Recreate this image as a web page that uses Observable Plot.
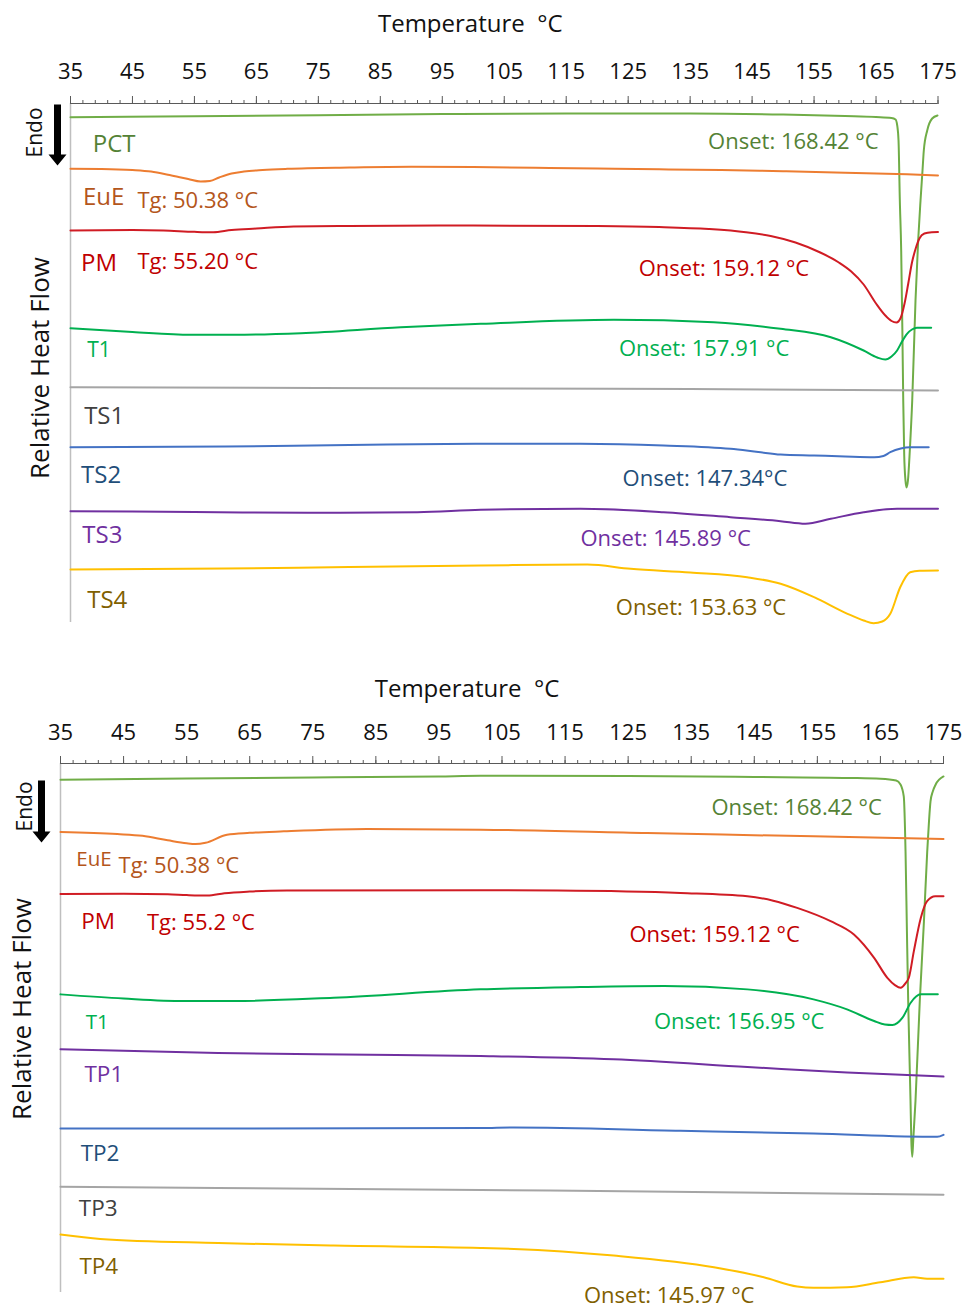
<!DOCTYPE html>
<html><head><meta charset="utf-8">
<script src="https://cdn.jsdelivr.net/npm/d3@7"></script>
<script src="https://cdn.jsdelivr.net/npm/@observablehq/plot@0.6"></script>
<style>html,body{margin:0;padding:0;background:#fff;width:964px}svg{display:block}</style>
</head><body><div id="c"></div><script>
// ---------- data: [temperature °C, relative heat flow (arb. units, endo down)] ----------
const ticksMajor = [35,45,55,65,75,85,95,105,115,125,135,145,155,165,175];

// Panel 1
const p1_PCT = [[35,-13.7],[55,-12.8],[75,-11.8],[95,-10.5],[115,-10],[135,-10],[150,-11],[160,-12.5],[165,-13.5],[167.5,-14.5],[168.15,-16],[168.42,-22],[168.63,-37],[168.84,-97],[169.06,-147],[169.25,-227],[169.39,-297],[169.55,-352],[169.75,-377],[169.92,-384],[170.15,-377],[170.45,-347],[170.84,-297],[171.37,-197],[171.8,-137],[172.18,-97],[172.5,-67],[172.71,-47],[173.26,-27],[174.06,-15],[174.92,-12]];
const p1_EuE = [[35,-65.3],[40,-65.5],[45,-66.5],[48,-68],[51,-71.5],[54,-75.5],[56,-78],[57.5,-77.5],[59,-74],[61,-70],[63,-68],[66,-66.5],[70,-65.3],[80,-64],[90,-63.3],[100,-63.5],[110,-64.2],[120,-65],[130,-65.8],[140,-66.5],[150,-67.8],[160,-69.2],[170,-70.8],[175,-72]];
const p1_PM = [[35,-127],[45,-126.5],[50,-127],[55,-128.3],[58,-128.7],[61,-126.5],[65,-125],[71,-123],[80,-122.5],[100,-122],[120,-122.5],[130,-123.5],[138,-125.5],[144,-128.7],[148,-132.5],[152,-139],[156,-149],[159,-159],[161,-168],[163,-181],[165,-200],[166.5,-212],[167.5,-217.5],[168.3,-219],[169,-214],[169.6,-200],[170.2,-180],[170.8,-159],[171.4,-145],[172,-135],[172.8,-130],[174,-128.7],[175,-128.5]];
const p1_T1 = [[35,-224.7],[45,-228.5],[54.4,-231.3],[61.4,-231.3],[72.2,-229.7],[88.3,-223.7],[101.2,-220.3],[122.7,-216.3],[138.8,-218.7],[149.6,-225.3],[157.7,-233.7],[163,-247],[165.2,-254],[166.5,-256],[167.5,-253],[168.4,-247],[169.2,-238],[170,-230.3],[170.8,-226],[171.6,-224.3],[173.9,-224.3]];
const p1_TS1 = [[35,-283.7],[75,-284.5],[105,-285],[135,-285.5],[175,-287]];
const p1_TS2 = [[35,-343.7],[60,-343],[80,-341.5],[101.2,-340.3],[117.3,-340.3],[130.7,-342],[141.5,-345.3],[146,-348.5],[149.6,-351],[155,-352],[160,-353],[164.7,-353.7],[166.2,-352.5],[167.3,-348.7],[169,-345],[170.5,-343.7],[173.5,-343.7]];
const p1_TS3 = [[35,-407.7],[55,-408.5],[74.8,-409.3],[91,-408.7],[101.2,-406.3],[117.3,-405.3],[130.7,-408.7],[141.5,-413.7],[149.6,-417.7],[153.6,-420.3],[157.7,-415.3],[163,-408.7],[168.4,-405.3],[175,-405.3]];
const p1_TS4 = [[35,-466],[60,-465],[80,-463.5],[101.2,-462],[118.4,-461],[125.4,-465.3],[135,-469],[144.2,-473.7],[149.6,-480.3],[155,-493.7],[160.4,-510.3],[163,-517],[164.6,-519.7],[166,-518],[167.3,-510.3],[168.9,-483.7],[170.5,-468.7],[172,-467.2],[175,-467]];
// labels: [series, text, temperature, heat flow, kind]
const p1_labels = [
  ["PCT","PCT",38.6,-41,"name"],
  ["PCT","Onset: 168.42 °C",137.9,-38,"note"],
  ["EuE","EuE",37.0,-94,"name"],
  ["EuE","Tg: 50.38 °C",45.8,-97,"note"],
  ["PM","PM",36.7,-160,"name"],
  ["PM","Tg: 55.20 °C",45.8,-158,"note"],
  ["PM","Onset: 159.12 °C",126.7,-165,"note"],
  ["T1","T1",37.7,-247,"small"],
  ["T1","Onset: 157.91 °C",123.5,-245,"note"],
  ["TS1","TS1",37.2,-313,"name"],
  ["TS2","TS2",36.7,-372,"name"],
  ["TS2","Onset: 147.34°C",124.1,-375,"note"],
  ["TS3","TS3",36.9,-432,"name"],
  ["TS3","Onset: 145.89 °C",117.3,-435,"note"],
  ["TS4","TS4",37.7,-497,"name"],
  ["TS4","Onset: 153.63 °C",123.0,-504,"note"]
];

// Panel 2
const p2_PCT = [[35,-16.3],[55,-15],[75,-14],[95,-13],[101.6,-12.3],[125,-12.5],[145,-13.5],[160,-14.5],[165,-15.3],[167.5,-17],[168.18,-21],[168.7,-33],[168.98,-88],[169.2,-168],[169.4,-238],[169.77,-338],[169.9,-378],[170.04,-394],[170.2,-378],[170.56,-338],[171.24,-238],[171.9,-158],[172.42,-88],[172.7,-58],[172.94,-38],[173.3,-28],[173.74,-21.3],[175,-13]];
const p2_EuE = [[35,-68.7],[44,-70.7],[48,-72.5],[52,-77],[55,-80],[56.4,-80.7],[58,-79.5],[61.4,-71.3],[65,-69.5],[70.4,-68],[83.6,-65.7],[101.6,-66.3],[128,-69.7],[154.4,-73],[175,-75.7]];
const p2_PM = [[35,-130.7],[45,-130.5],[52,-131],[55,-131.8],[58.3,-132.3],[61,-130],[65,-128.3],[70.9,-127.3],[101.6,-127],[113.8,-127.3],[133.3,-129.7],[143.9,-133],[148,-137.5],[151.8,-144.7],[157.1,-158],[160.8,-171.3],[164,-194.7],[166.1,-214.7],[167.3,-222],[168.2,-224.7],[169,-220],[169.5,-214.7],[170.3,-188],[171.4,-154.7],[172.4,-138],[173.7,-133],[175,-133]];
const p2_T1 = [[35,-231.3],[45,-235.5],[54.6,-238],[62.5,-238],[78.3,-234.7],[101.6,-226.3],[117.4,-224],[130.7,-223],[143.9,-226.3],[154.4,-236.3],[159.7,-246.3],[164,-258],[165.7,-261.5],[166.9,-262],[168.5,-254.7],[169.8,-239.7],[171.4,-231.3],[174.1,-231.3]];
const p2_TP1 = [[35,-286.3],[60,-290],[80,-291.5],[101.6,-293],[122.7,-296.3],[143.9,-304],[159.7,-309.7],[175,-313.7]];
const p2_TP2 = [[35,-365.7],[101.6,-365.3],[106.9,-364.7],[133.3,-368],[154.4,-370.7],[174,-374],[175,-372]];
const p2_TP3 = [[35,-424],[101.6,-427.3],[128,-428.7],[175,-432]];
const p2_TP4 = [[35,-472],[41.3,-476.3],[60,-480.5],[78.3,-483],[101.6,-485.3],[106.9,-486.3],[122.7,-493],[138.6,-504.7],[146.5,-514.7],[151.8,-524],[154.4,-525.3],[159.7,-524.7],[165,-519.7],[170.3,-514.7],[172.4,-516.3],[175,-516.3]];
const p2_labels = [
  ["PCT","Onset: 168.42 °C",138.2,-44.7,"note"],
  ["EuE","EuE",37.5,-96,"small"],
  ["EuE","Tg: 50.38 °C",44.2,-103,"note"],
  ["PM","PM",38.3,-158.7,"name"],
  ["PM","Tg: 55.2 °C",48.7,-159.7,"note"],
  ["PM","Onset: 159.12 °C",125.2,-171.3,"note"],
  ["T1","T1",39.0,-259.7,"small"],
  ["T1","Onset: 156.95 °C",129.1,-258.7,"note"],
  ["TP1","TP1",38.8,-312,"name"],
  ["TP2","TP2",38.2,-391.3,"name"],
  ["TP3","TP3",37.9,-445.7,"name"],
  ["TP4","TP4",38.0,-504,"name"],
  ["TP4","Onset: 145.97 °C",118,-533,"note"]
];

// ---------- styles ----------
const FONT = "'Open Sans', sans-serif";
const lineColor = {PCT:"#70AD47",EuE:"#ED7D31",PM:"#D01C24",T1:"#00B050",TS1:"#A5A5A5",TS2:"#4472C4",TS3:"#7030A0",TS4:"#FFC000",TP1:"#7030A0",TP2:"#4472C4",TP3:"#A5A5A5",TP4:"#FFC000"};
const textColor = {PCT:"#548235",EuE:"#B4561B",PM:"#C00000",T1:"#00B050",TS1:"#404040",TS2:"#1F4E79",TS3:"#7030A0",TS4:"#7F6000",TP1:"#7030A0",TP2:"#1F4E79",TP3:"#404040",TP4:"#7F6000"};

const arrowShape = {
  draw(ctx, l) {
    const w = 3.5, hw = 9, hl = 11;
    ctx.moveTo(-w, 0); ctx.lineTo(-w, -l + hl); ctx.lineTo(-hw, -l + hl);
    ctx.lineTo(0, -l); ctx.lineTo(hw, -l + hl); ctx.lineTo(w, -l + hl); ctx.lineTo(w, 0); ctx.closePath();
  }
};

function panel(cfg) {
  const rows = [];
  for (const [name, pts] of cfg.series) for (const [t, v] of pts) rows.push({name, t, v});
  const labs = cfg.labels.map(([s, text, t, v, kind]) => ({s, text, t, v, kind}));
  const sizeOf = k => k === "note" ? cfg.noteSize : k === "name" ? cfg.nameSize : cfg.smallSize;
  return Plot.plot({
    width: 964, height: cfg.height,
    marginTop: cfg.mt, marginBottom: cfg.mb, marginLeft: cfg.ml, marginRight: cfg.mr,
    x: {domain: [35, 175], axis: null},
    y: {domain: cfg.yDomain, axis: null},
    style: {fontFamily: FONT, background: "#fff", overflow: "visible"},
    marks: [
      Plot.ruleX([35], {stroke: "#BFBFBF", strokeWidth: 1.5}),
      Plot.ruleY([0], {stroke: "#595959", strokeWidth: 1.2}),
      Plot.axisX({anchor: "top", ticks: d3.range(35, 176, 2), tickSize: 4, tickFormat: () => "", stroke: "#595959", label: null}),
      Plot.axisX({anchor: "top", ticks: ticksMajor, tickSize: 8, tickPadding: cfg.tickPad, fontSize: 22, stroke: "#595959", fill: "#111", label: null}),
      Plot.line(rows, {x: "t", y: "v", z: "name", stroke: d => lineColor[d.name], strokeWidth: 2, curve: "monotone-x"}),
      Plot.text(labs, {x: "t", y: "v", text: "text", fill: d => textColor[d.s], fontSize: d => sizeOf(d.kind), textAnchor: "start", lineAnchor: "middle"}),
      Plot.text(["Temperature  °C"], {frameAnchor: "top", dx: cfg.titleDx, dy: cfg.titleDy, fontSize: 24, fill: "#111", lineAnchor: "middle"}),
      Plot.text(["Relative Heat Flow"], {frameAnchor: "left", dx: cfg.ylabDx, dy: cfg.ylabDy, rotate: -90, fontSize: 26, fill: "#111", textAnchor: "middle", lineAnchor: "middle"}),
      Plot.text(["Endo"], {frameAnchor: "top-left", dx: cfg.endoDx, dy: cfg.endoDy, rotate: -90, fontSize: 21, fill: "#111", textAnchor: "middle", lineAnchor: "middle"}),
      Plot.vector([0], {frameAnchor: "top-left", dx: cfg.arrowDx, dy: cfg.arrowDy, length: cfg.arrowLen, rotate: 180, anchor: "start", shape: arrowShape, fill: "#000", stroke: "none"})
    ]
  });
}

const c = document.getElementById("c");
c.append(panel({
  series: [["PCT",p1_PCT],["EuE",p1_EuE],["PM",p1_PM],["T1",p1_T1],["TS1",p1_TS1],["TS2",p1_TS2],["TS3",p1_TS3],["TS4",p1_TS4]],
  labels: p1_labels, height: 650, mt: 103, mb: 28, ml: 70, mr: 26.5, yDomain: [-519, 0],
  noteSize: 22, nameSize: 24, smallSize: 21, tickPad: 17,
  titleDx: -34, titleDy: -79, ylabDx: -30, ylabDy: 5, endoDx: -35, endoDy: 29,
  arrowDx: -13, arrowDy: 1, arrowLen: 61
}));
c.append(panel({
  series: [["PCT",p2_PCT],["EuE",p2_EuE],["PM",p2_PM],["T1",p2_T1],["TP1",p2_TP1],["TP2",p2_TP2],["TP3",p2_TP3],["TP4",p2_TP4]],
  labels: p2_labels, height: 657, mt: 113, mb: 15, ml: 60, mr: 21, yDomain: [-530, 0],
  noteSize: 22, nameSize: 22.5, smallSize: 20.5, tickPad: 16,
  titleDx: -35, titleDy: -74, ylabDx: -38, ylabDy: -19, endoDx: -35, endoDy: 43,
  arrowDx: -19, arrowDy: 17, arrowLen: 62
}));
</script></body></html>
